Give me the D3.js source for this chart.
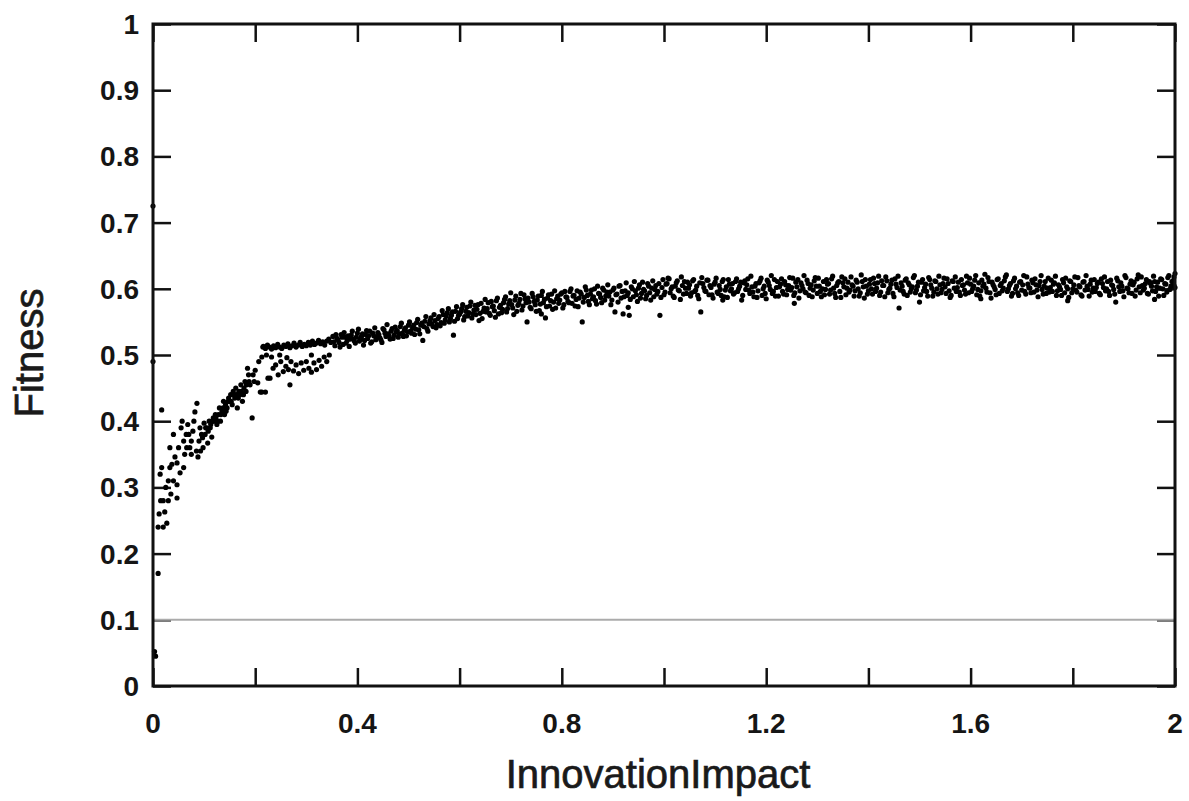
<!DOCTYPE html>
<html>
<head>
<meta charset="utf-8">
<script src="https://cdn.jsdelivr.net/npm/d3@7"></script>
<style>
  html, body { margin: 0; padding: 0; background: #fff; }
  svg { display: block; }
</style>
</head>
<body>
<svg id="chart" width="1189" height="801"></svg>
<script>
// Fitness reached for each InnovationImpact setting, as [impact, fitness] pairs.

// Low-impact runs (impact below ~0.22): widely scattered
const earlyRuns = [
  [0,.725],[0,.49],[.003,.052],[.005,.045],[.01,.17],
  [.01,.24],[.012,.26],[.015,.28],[.017,.33],[.014,.32],[.02,.28],[.023,.263],
  [.027,.246],[.025,.30],[.03,.28],[.033,.33],[.035,.29],[.017,.417],[.04,.38],
  [.033,.36],[.043,.346],[.047,.337],[.053,.322],[.047,.304],[.047,.284],[.05,.36],
  [.055,.39],[.057,.40],[.06,.37],[.062,.35],[.066,.36],[.068,.395],[.07,.38],
  [.072,.36],[.075,.37],[.078,.385],[.08,.40],[.082,.414],[.086,.427],[.088,.346],
  [.09,.37],[.092,.39],[.095,.38],[.098,.36],[.10,.397],[.102,.38],[.105,.39],
  [.107,.367],[.11,.40],[.112,.39],[.115,.376],[.118,.405],[.12,.40],[.122,.41],
  [.125,.395],[.128,.41],[.13,.42],[.132,.40],[.135,.415],[.138,.43],[.14,.41],
  [.142,.425],[.145,.42],[.148,.435],[.15,.43],[.152,.44],[.155,.425],[.158,.44],
  [.16,.435],[.162,.45],[.165,.42],[.168,.445],[.17,.44],[.172,.455],[.175,.43],
  [.178,.45],[.18,.46],[.182,.445],[.185,.48],[.188,.46],[.19,.455],[.194,.405],
  [.196,.47],[.20,.477],[.198,.46],[.205,.458],[.207,.49],[.21,.444],[.213,.497],
  [.215,.512],
  [.103,.39],[.108,.385],[.113,.395],[.117,.40],[.123,.405],[.127,.40],[.133,.41],
  [.137,.42],[.143,.415],[.147,.43],[.153,.43],[.157,.445],[.163,.44],[.167,.435],
  [.173,.445],[.177,.44],[.183,.455],[.187,.47],[.06,.33],[.065,.38],[.075,.35],
  [.085,.355],[.093,.355],[.097,.375],[.04,.31],[.037,.335],[.02,.24],[.03,.31]
];

// Runs that stayed below the main line between 0.2 and 0.35
const lowerBranch = [
  [.213,.444],[.22,.444],[.225,.465],[.229,.465],[.235,.48],[.24,.485],[.245,.47],
  [.25,.49],[.255,.475],[.26,.483],[.265,.478],[.268,.455],[.27,.49],[.275,.476],
  [.28,.485],[.285,.472],[.29,.488],[.295,.477],[.30,.49],[.305,.48],[.31,.474],
  [.315,.488],[.32,.478],[.325,.492],[.33,.483],[.335,.497],[.34,.49],[.222,.50],
  [.232,.497],[.248,.50],[.262,.496],[.31,.50],[.345,.50]
];

// Main sweep from 0.216 up to 0.6
const rising = [
  [.216,.513],[.22,.510],[.224,.515],[.228,.512],[.232,.509],[.236,.514],[.24,.511],
  [.244,.516],[.248,.512],[.252,.510],[.256,.515],[.26,.513],[.264,.517],[.268,.511],
  [.272,.514],[.276,.518],[.28,.512],[.284,.515],[.288,.519],[.292,.513],[.296,.516],
  [.30,.514],[.304,.519],[.308,.515],[.312,.521],[.316,.516],[.32,.518],[.324,.522],
  [.328,.517],[.332,.520],[.336,.515],[.34,.521],[.344,.524],[.348,.519],
  [.352,.528],[.356,.514],[.36,.525],[.364,.519],[.368,.531],[.372,.516],[.376,.527],
  [.38,.522],[.384,.513],[.388,.530],[.392,.524],[.396,.518],[.40,.533],[.404,.521],
  [.408,.528],[.412,.515],[.416,.531],[.42,.525],[.424,.536],[.428,.520],[.432,.529],
  [.436,.523],[.44,.534],[.444,.526],[.448,.519],[.452,.538],[.456,.528],[.46,.532],
  [.464,.524],[.468,.540],[.472,.530],[.476,.535],[.48,.527],[.484,.543],[.488,.533],
  [.492,.538],[.496,.529],[.50,.545],[.504,.536],[.508,.541],[.512,.531],[.516,.549],
  [.52,.538],[.524,.545],[.528,.522],[.532,.551],[.536,.540],[.54,.547],[.544,.556],
  [.548,.543],[.552,.552],[.556,.546],[.56,.558],[.564,.549],[.568,.561],[.572,.553],
  [.576,.564],[.58,.550],[.584,.560],[.588,.530],[.592,.566],[.596,.555],[.60,.562],
  [.354,.520],[.358,.531],[.362,.523],[.366,.512],[.37,.527],[.374,.534],[.378,.518],
  [.382,.529],[.386,.524],[.39,.536],[.394,.521],[.398,.527],[.402,.539],[.406,.524],
  [.41,.532],[.414,.522],[.418,.537],[.422,.529],[.426,.518],[.43,.533],[.434,.541],
  [.438,.527],[.442,.531],[.446,.523],[.45,.540],[.454,.533],[.458,.546],[.462,.529],
  [.466,.536],[.47,.525],[.474,.542],[.478,.537],[.482,.532],[.486,.548],[.49,.528],
  [.494,.541],[.498,.535],[.502,.550],[.506,.533],[.51,.545],[.514,.539],[.518,.554],
  [.522,.532],[.526,.548],[.53,.543],[.534,.558],[.538,.536],[.542,.552],[.546,.547],
  [.55,.561],[.554,.541],[.558,.555],[.562,.544],[.566,.567],[.57,.548],[.574,.559],
  [.578,.570],[.582,.555],[.586,.565],[.59,.551],[.594,.573],[.598,.560]
];

// Bend of the curve, 0.6 to 1
const bend = [
  [.604,.570],[.608,.553],[.612,.566],[.616,.559],[.62,.574],[.624,.556],[.628,.568],
  [.632,.561],[.636,.576],[.64,.563],[.644,.555],[.648,.571],[.652,.565],[.656,.579],
  [.66,.560],[.664,.573],[.668,.567],[.672,.582],[.676,.562],[.68,.575],[.684,.569],
  [.688,.584],[.692,.565],[.696,.577],[.70,.594],[.704,.571],[.708,.583],[.712,.566],
  [.716,.578],[.72,.593],[.724,.574],[.728,.585],[.732,.550],[.736,.580],[.74,.570],
  [.744,.588],[.748,.576],[.752,.583],[.756,.567],[.76,.590],[.764,.579],[.768,.556],
  [.772,.586],[.776,.574],[.78,.592],[.784,.580],[.788,.571],[.792,.589],[.796,.583],
  [.80,.594],[.804,.576],[.808,.588],[.812,.581],[.816,.596],[.82,.578],[.824,.590],
  [.828,.584],[.832,.573],[.836,.595],[.84,.550],[.844,.587],[.848,.598],[.852,.581],
  [.856,.592],[.86,.585],[.864,.600],[.868,.577],[.872,.593],[.876,.587],[.88,.601],
  [.884,.583],[.888,.595],[.892,.589],[.896,.576],[.90,.598],[.904,.565],[.908,.592],
  [.912,.604],[.916,.586],[.92,.562],[.924,.597],[.928,.590],[.932,.560],[.936,.603],
  [.94,.588],[.944,.597],[.948,.581],[.952,.606],[.956,.593],[.96,.599],[.964,.585],
  [.968,.608],[.972,.594],[.976,.601],[.98,.588],[.984,.605],[.988,.596],[.992,.560],
  [.996,.602],
  [.602,.565],[.606,.576],[.61,.558],[.614,.572],[.618,.564],[.622,.580],[.626,.562],
  [.63,.575],[.634,.569],[.638,.552],[.642,.578],[.646,.566],[.65,.584],[.654,.570],
  [.658,.563],[.662,.581],[.666,.574],[.67,.557],[.674,.586],[.678,.572],[.682,.564],
  [.686,.579],[.69,.588],[.694,.570],[.698,.582],[.702,.576],[.706,.561],[.71,.589],
  [.714,.575],[.718,.584],[.722,.568],[.726,.591],[.73,.579],[.734,.586],[.738,.572],
  [.742,.593],[.746,.581],[.75,.566],[.754,.589],[.758,.577],[.762,.596],[.766,.584],
  [.77,.573],[.774,.591],[.778,.582],[.782,.569],[.786,.597],[.79,.585],[.794,.578],
  [.798,.592],[.802,.571],[.806,.596],[.81,.587],[.814,.579],[.818,.600],[.822,.589],
  [.826,.574],[.83,.597],[.834,.586],[.838,.592],[.842,.580],[.846,.603],[.85,.590],
  [.854,.576],[.858,.598],[.862,.588],[.866,.582],[.87,.604],[.874,.592],[.878,.579],
  [.882,.598],[.886,.589],[.89,.606],[.894,.595],[.898,.583],[.902,.601],[.906,.591],
  [.91,.580],[.914,.605],[.918,.596],[.922,.588],[.926,.609],[.93,.594],[.934,.584],
  [.938,.600],[.942,.611],[.946,.591],[.95,.601],[.954,.586],[.958,.610],[.962,.597],
  [.966,.590],[.97,.604],[.974,.583],[.978,.612],[.982,.599],[.986,.592],[.99,.608],
  [.994,.587],[.998,.614],[.93,.572],[.76,.562]
];

// Plateau, 1 to 2
const plateau = [
  [1.0,.591],[1.004,.607],[1.008,.616],[1.012,.594],[1.016,.603],[1.02,.587],[1.024,.609],
  [1.028,.598],[1.032,.584],[1.036,.605],[1.04,.611],[1.044,.593],[1.048,.601],[1.052,.589],
  [1.056,.612],[1.06,.596],[1.064,.604],[1.068,.585],[1.072,.565],[1.076,.608],[1.08,.597],
  [1.084,.613],[1.088,.591],[1.092,.602],[1.096,.586],[1.10,.610],[1.104,.595],[1.108,.605],
  [1.112,.590],[1.116,.614],[1.12,.598],[1.124,.587],[1.128,.607],[1.132,.600],[1.136,.592],
  [1.14,.611],[1.144,.596],[1.148,.604],[1.152,.583],[1.156,.609],[1.16,.599],[1.164,.615],
  [1.168,.593],[1.172,.603],[1.176,.588],[1.18,.608],[1.184,.597],[1.188,.612],[1.192,.590],
  [1.196,.604],[1.20,.585],[1.204,.610],[1.208,.599],[1.212,.593],[1.216,.614],[1.22,.602],
  [1.224,.589],[1.228,.607],[1.232,.596],[1.236,.611],[1.24,.591],[1.244,.605],[1.248,.598],
  [1.252,.616],[1.256,.594],[1.26,.603],[1.264,.586],[1.268,.609],[1.272,.600],[1.276,.595],
  [1.28,.613],[1.284,.590],[1.288,.606],[1.292,.598],[1.296,.617],[1.30,.593],[1.304,.604],
  [1.308,.588],[1.312,.611],[1.316,.599],[1.32,.607],[1.324,.592],[1.328,.615],[1.332,.601],
  [1.336,.587],[1.34,.609],[1.344,.596],[1.348,.618],[1.352,.603],[1.356,.591],[1.36,.610],
  [1.364,.598],[1.368,.606],[1.372,.589],[1.376,.613],[1.38,.600],[1.384,.594],[1.388,.611],
  [1.392,.586],[1.396,.604],[1.40,.597],[1.404,.614],[1.408,.592],[1.412,.608],[1.416,.601],
  [1.42,.619],[1.424,.595],[1.428,.605],[1.432,.588],[1.436,.612],[1.44,.599],[1.444,.607],
  [1.448,.593],[1.452,.615],[1.456,.602],[1.46,.571],[1.464,.609],[1.468,.596],[1.472,.613],
  [1.476,.590],[1.48,.606],[1.484,.600],[1.488,.617],[1.492,.594],[1.496,.604],[1.50,.580],
  [1.504,.610],[1.508,.597],[1.512,.607],[1.516,.589],[1.52,.614],[1.524,.601],[1.528,.595],
  [1.532,.611],[1.536,.592],[1.54,.606],[1.544,.599],[1.548,.616],[1.552,.593],[1.556,.608],
  [1.56,.587],[1.564,.612],[1.568,.601],[1.572,.596],[1.576,.610],[1.58,.590],[1.584,.605],
  [1.588,.598],[1.592,.619],[1.596,.594],[1.60,.607],[1.604,.600],[1.608,.613],[1.612,.591],
  [1.616,.609],[1.62,.597],[1.624,.604],[1.628,.622],[1.632,.595],[1.636,.611],[1.64,.586],
  [1.644,.606],[1.648,.599],[1.652,.614],[1.656,.593],[1.66,.608],[1.664,.601],[1.668,.618],
  [1.672,.596],[1.676,.605],[1.68,.589],[1.684,.612],[1.688,.600],[1.692,.594],[1.696,.610],
  [1.70,.598],[1.704,.620],[1.708,.592],[1.712,.607],[1.716,.601],[1.72,.613],[1.724,.595],
  [1.728,.606],[1.732,.588],[1.736,.611],[1.74,.599],[1.744,.604],[1.748,.593],[1.752,.616],
  [1.756,.602],[1.76,.596],[1.764,.609],[1.768,.590],[1.772,.606],[1.776,.599],[1.78,.614],
  [1.784,.594],[1.788,.603],[1.792,.587],[1.796,.611],[1.80,.600],[1.804,.618],[1.808,.595],
  [1.812,.605],[1.816,.591],[1.82,.610],[1.824,.598],[1.828,.604],[1.832,.589],[1.836,.613],
  [1.84,.601],[1.844,.596],[1.848,.608],[1.852,.593],[1.856,.615],[1.86,.602],[1.864,.597],
  [1.868,.611],[1.872,.590],[1.876,.606],[1.88,.599],[1.884,.580],[1.888,.612],[1.892,.596],
  [1.896,.604],[1.90,.588],[1.904,.617],[1.908,.600],[1.912,.607],[1.916,.593],[1.92,.610],
  [1.924,.598],[1.928,.621],[1.932,.594],[1.936,.605],[1.94,.601],[1.944,.614],[1.948,.592],
  [1.952,.608],[1.956,.597],[1.96,.611],[1.964,.603],[1.968,.589],[1.972,.615],[1.976,.600],
  [1.98,.608],[1.984,.595],[1.988,.620],[1.992,.604],[1.996,.612],[2.0,.602],[1.998,.618],
  [2.0,.623],
  [1.002,.595],[1.006,.608],[1.01,.615],[1.014,.600],[1.018,.589],[1.022,.604],[1.026,.612],
  [1.03,.597],[1.034,.618],[1.038,.592],[1.042,.601],[1.046,.610],[1.05,.606],[1.054,.594],
  [1.058,.614],[1.062,.598],[1.066,.590],[1.07,.609],[1.074,.617],[1.078,.602],[1.082,.596],
  [1.086,.613],[1.09,.605],[1.094,.591],[1.098,.607],[1.102,.616],[1.106,.593],[1.11,.599],
  [1.114,.611],[1.118,.588],[1.122,.603],[1.126,.614],[1.13,.597],[1.134,.608],[1.138,.594],
  [1.142,.615],[1.146,.600],[1.15,.610],[1.154,.590],[1.158,.612],[1.162,.606],[1.166,.598],
  [1.17,.619],[1.174,.595],[1.178,.604],[1.182,.587],[1.186,.609],[1.19,.616],[1.194,.600],
  [1.198,.593],[1.202,.613],[1.206,.605],[1.21,.620],[1.214,.596],[1.218,.589],[1.222,.611],
  [1.226,.603],[1.23,.615],[1.234,.592],[1.238,.606],[1.242,.599],[1.246,.617],[1.25,.602],
  [1.254,.590],[1.258,.610],[1.262,.614],[1.266,.597],[1.27,.605],[1.274,.620],[1.278,.594],
  [1.282,.608],[1.286,.601],[1.29,.588],[1.294,.612],[1.298,.604],[1.302,.616],[1.306,.596],
  [1.31,.600],[1.314,.591],[1.318,.614],[1.322,.608],[1.326,.598],[1.33,.619],[1.334,.593],
  [1.338,.605],[1.342,.611],[1.346,.587],[1.35,.609],[1.354,.615],[1.358,.601],[1.362,.595],
  [1.366,.618],[1.37,.604],[1.374,.597],[1.378,.610],[1.382,.589],[1.386,.621],[1.39,.603],
  [1.394,.614],[1.398,.592],[1.402,.607],[1.406,.600],[1.41,.616],[1.414,.596],[1.418,.609],
  [1.422,.590],[1.426,.612],[1.43,.605],[1.434,.618],[1.438,.594],[1.442,.601],[1.446,.613],
  [1.45,.588],[1.454,.607],[1.458,.619],[1.462,.598],[1.466,.604],[1.47,.592],[1.474,.615],
  [1.478,.609],[1.482,.595],[1.486,.603],[1.49,.620],[1.494,.598],[1.498,.610],[1.502,.591],
  [1.506,.614],[1.51,.602],[1.514,.596],[1.518,.617],[1.522,.606],[1.526,.589],[1.53,.612],
  [1.534,.600],[1.538,.619],[1.542,.594],[1.546,.608],[1.55,.603],[1.554,.615],[1.558,.597],
  [1.562,.590],[1.566,.611],[1.57,.618],[1.574,.602],[1.578,.595],[1.582,.614],[1.586,.606],
  [1.59,.592],[1.594,.609],[1.598,.616],[1.602,.596],[1.606,.604],[1.61,.620],[1.614,.599],
  [1.618,.589],[1.622,.613],[1.626,.607],[1.63,.601],[1.634,.617],[1.638,.594],[1.642,.610],
  [1.646,.603],[1.65,.591],[1.654,.615],[1.658,.605],[1.662,.597],[1.666,.612],[1.67,.621],
  [1.674,.600],[1.678,.608],[1.682,.593],[1.686,.616],[1.69,.604],[1.694,.590],[1.698,.611],
  [1.702,.606],[1.706,.596],[1.71,.618],[1.714,.602],[1.718,.594],[1.722,.609],[1.726,.615],
  [1.73,.598],[1.734,.605],[1.738,.620],[1.742,.592],[1.746,.611],[1.75,.601],[1.754,.595],
  [1.758,.613],[1.762,.607],[1.766,.619],[1.77,.597],[1.774,.603],[1.778,.590],[1.782,.609],
  [1.786,.616],[1.79,.600],[1.794,.612],[1.798,.594],[1.802,.606],[1.806,.598],[1.81,.617],
  [1.814,.603],[1.818,.589],[1.822,.611],[1.826,.620],[1.83,.599],[1.834,.607],[1.838,.595],
  [1.842,.614],[1.846,.602],[1.85,.610],[1.854,.591],[1.858,.608],[1.862,.618],[1.866,.600],
  [1.87,.596],[1.874,.613],[1.878,.605],[1.882,.592],[1.886,.616],[1.89,.603],[1.894,.609],
  [1.898,.597],[1.902,.620],[1.906,.601],[1.91,.594],[1.914,.612],[1.918,.606],[1.922,.589],
  [1.926,.615],[1.93,.603],[1.934,.618],[1.938,.598],[1.942,.608],[1.946,.593],[1.95,.611],
  [1.954,.604],[1.958,.619],[1.962,.596],[1.966,.610],[1.97,.601],[1.974,.614],[1.978,.590],
  [1.982,.607],[1.986,.617],[1.99,.599],[1.994,.611],[1.998,.605],
  [1.115,.583],[1.255,.578],[1.62,.585],[1.79,.582],[1.96,.584]
];

// Axis ticks and labels
const xTicks = [0, 0.2, 0.4, 0.6, 0.8, 1.0, 1.2, 1.4, 1.6, 1.8, 2.0];
const xTickLabels = [0, 0.4, 0.8, 1.2, 1.6, 2];
const yTicks = [0, 0.1, 0.2, 0.3, 0.4, 0.5, 0.6, 0.7, 0.8, 0.9, 1];
const referenceLevel = [0.1];

const margin = { left: 153, top: 24, right: 14, bottom: 115 };
const W = 1189, H = 801;
const plotW = W - margin.left - margin.right;
const plotH = H - margin.top - margin.bottom;

const x = d3.scaleLinear().domain([0, 2]).range([0, plotW]);
const y = d3.scaleLinear().domain([0, 1]).range([plotH, 0]);

const svg = d3.select("#chart");
const g = svg.append("g").attr("transform", `translate(${margin.left},${margin.top})`);

const tickLen = 18;
const fmt = d => String(+d.toFixed(1));

// Inward ticks on all four sides
const axisSpecs = [
  [d3.axisBottom(x).tickValues(xTicks), `translate(0,${plotH - tickLen})`],
  [d3.axisTop(x).tickValues(xTicks), `translate(0,${tickLen})`],
  [d3.axisLeft(y).tickValues(yTicks), `translate(${tickLen},0)`],
  [d3.axisRight(y).tickValues(yTicks), `translate(${plotW - tickLen},0)`]
];
axisSpecs.forEach(([ax, tr]) => {
  const a = g.append("g").attr("transform", tr)
    .call(ax.tickSize(tickLen).tickFormat(""));
  a.select(".domain").remove();
  a.selectAll(".tick line").attr("stroke", "#111").attr("stroke-width", 2.5);
});

// Reference line at fitness 0.1
g.selectAll("line.ref").data(referenceLevel).join("line")
  .attr("class", "ref")
  .attr("x1", 0).attr("x2", plotW)
  .attr("y1", d => y(d)).attr("y2", d => y(d))
  .attr("stroke", "#ababab").attr("stroke-width", 2);

// Scatter points
const allPoints = [].concat(earlyRuns, lowerBranch, rising, bend, plateau);
g.append("g").selectAll("circle").data(allPoints).join("circle")
  .attr("cx", d => x(d[0]))
  .attr("cy", d => y(d[1]))
  .attr("r", 2.6)
  .attr("fill", "#000");

// Frame
g.append("rect")
  .attr("x", 0).attr("y", 0).attr("width", plotW).attr("height", plotH)
  .attr("fill", "none").attr("stroke", "#111").attr("stroke-width", 3);

// Tick labels
const font = "'Liberation Sans', Arial, sans-serif";
g.append("g").selectAll("text").data(xTickLabels).join("text")
  .attr("x", d => x(d))
  .attr("y", plotH + 47)
  .attr("text-anchor", "middle")
  .attr("font-family", font).attr("font-weight", "bold").attr("font-size", 28)
  .attr("fill", "#151515")
  .text(fmt);

g.append("g").selectAll("text").data(yTicks).join("text")
  .attr("x", -14)
  .attr("y", d => y(d))
  .attr("dy", "0.36em")
  .attr("text-anchor", "end")
  .attr("font-family", font).attr("font-weight", "bold").attr("font-size", 28)
  .attr("fill", "#151515")
  .text(fmt);

// Axis titles
svg.append("text")
  .attr("x", 658).attr("y", 788)
  .attr("text-anchor", "middle")
  .attr("font-family", font).attr("font-size", 40)
  .attr("fill", "#1a1a1a").attr("stroke", "#1a1a1a").attr("stroke-width", 0.7)
  .text("InnovationImpact");

svg.append("text")
  .attr("transform", "translate(43,353) rotate(-90)")
  .attr("text-anchor", "middle")
  .attr("font-family", font).attr("font-size", 40)
  .attr("fill", "#1a1a1a").attr("stroke", "#1a1a1a").attr("stroke-width", 0.7)
  .text("Fitness");
</script>
</body>
</html>
